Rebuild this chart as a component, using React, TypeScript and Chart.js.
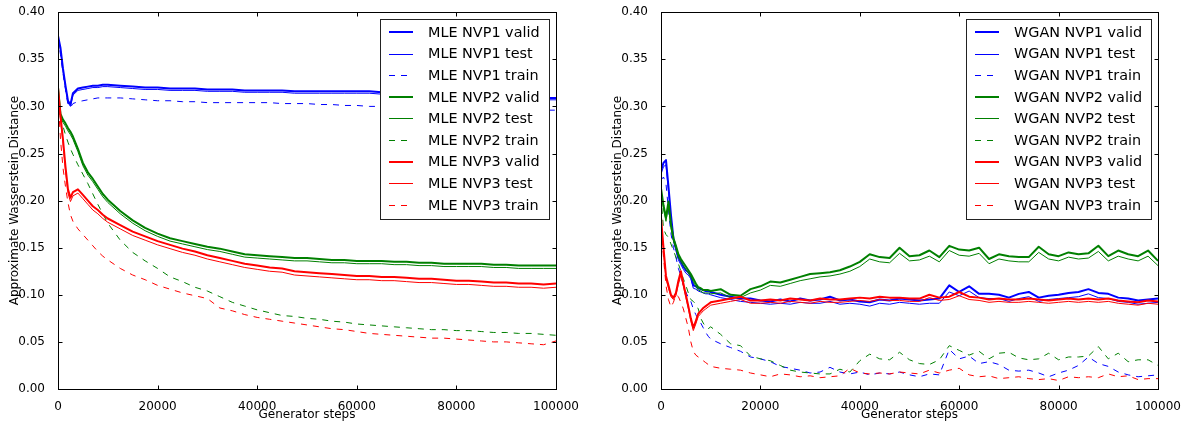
import React, { useEffect, useRef } from 'react';
import { Chart, registerables } from 'chart.js';

Chart.register(...registerables);
Chart.defaults.font.family = '"DejaVu Sans", sans-serif';
Chart.defaults.color = '#000';

// ---------- Data ----------
const X_TICKS = [0, 20000, 40000, 60000, 80000, 100000];
const Y_TICKS = [0, 0.05, 0.1, 0.15, 0.2, 0.25, 0.3, 0.35, 0.4];
const X_TITLE = 'Generator steps';
const Y_TITLE = 'Approximate Wasserstein Distance';

// MLE (left) evaluation steps
const L_STEPS = [0, 500, 1000, 1500, 2000, 2500, 3000, 4000, 5000, 6000, 7000, 8000, 9000,
  10000, 12500, 15000, 17500, 20000, 22500, 25000, 27500, 30000, 32500, 35000, 37500, 40000,
  42500, 45000, 47500, 50000, 52500, 55000, 57500, 60000, 62500, 65000, 67500, 70000, 72500,
  75000, 77500, 80000, 82500, 85000, 87500, 90000, 92500, 95000, 97500, 100000];

const MLE_NVP1_VALID = [0.375, 0.362, 0.340, 0.322, 0.306, 0.302, 0.314, 0.319, 0.320, 0.321, 0.322, 0.322, 0.323,
  0.323, 0.322, 0.321, 0.320, 0.320, 0.319, 0.319, 0.319, 0.318, 0.318, 0.318, 0.317, 0.317,
  0.317, 0.317, 0.316, 0.316, 0.316, 0.316, 0.316, 0.316, 0.316, 0.315, 0.315, 0.314, 0.314,
  0.313, 0.313, 0.312, 0.312, 0.311, 0.311, 0.310, 0.310, 0.310, 0.309, 0.309];
const MLE_NVP1_TEST = [0.373, 0.360, 0.338, 0.320, 0.304, 0.300, 0.312, 0.317, 0.318, 0.319, 0.320, 0.320, 0.321,
  0.321, 0.320, 0.319, 0.318, 0.318, 0.317, 0.317, 0.317, 0.316, 0.316, 0.316, 0.315, 0.315,
  0.315, 0.315, 0.314, 0.314, 0.314, 0.314, 0.314, 0.314, 0.314, 0.313, 0.313, 0.312, 0.312,
  0.311, 0.311, 0.310, 0.310, 0.309, 0.309, 0.308, 0.308, 0.308, 0.307, 0.307];
const MLE_NVP1_TRAIN = [0.372, 0.355, 0.335, 0.318, 0.302, 0.299, 0.303, 0.305, 0.306, 0.307, 0.308, 0.309, 0.309,
  0.309, 0.309, 0.308, 0.307, 0.306, 0.306, 0.305, 0.305, 0.304, 0.304, 0.304, 0.304, 0.304,
  0.304, 0.303, 0.303, 0.303, 0.302, 0.302, 0.301, 0.301, 0.300, 0.300, 0.299, 0.299, 0.299,
  0.298, 0.298, 0.298, 0.297, 0.297, 0.297, 0.297, 0.296, 0.296, 0.296, 0.296];

const MLE_NVP2_VALID = [0.320, 0.292, 0.286, 0.282, 0.277, 0.273, 0.268, 0.255, 0.240, 0.230, 0.223, 0.215, 0.207,
  0.201, 0.189, 0.179, 0.171, 0.165, 0.160, 0.157, 0.154, 0.151, 0.149, 0.146, 0.143, 0.142,
  0.141, 0.140, 0.139, 0.139, 0.138, 0.137, 0.137, 0.136, 0.136, 0.136, 0.135, 0.135, 0.134,
  0.134, 0.133, 0.133, 0.133, 0.133, 0.132, 0.132, 0.131, 0.131, 0.131, 0.131];
const MLE_NVP2_TEST = [0.317, 0.289, 0.283, 0.279, 0.274, 0.270, 0.265, 0.252, 0.237, 0.227, 0.220, 0.212, 0.204,
  0.198, 0.186, 0.176, 0.168, 0.162, 0.157, 0.154, 0.151, 0.148, 0.146, 0.143, 0.140, 0.139,
  0.138, 0.137, 0.136, 0.136, 0.135, 0.134, 0.134, 0.133, 0.133, 0.133, 0.132, 0.132, 0.131,
  0.131, 0.130, 0.130, 0.130, 0.130, 0.129, 0.129, 0.128, 0.128, 0.128, 0.128];
const MLE_NVP2_TRAIN = [0.315, 0.288, 0.279, 0.270, 0.262, 0.255, 0.249, 0.238, 0.228, 0.218, 0.207, 0.196, 0.186,
  0.176, 0.158, 0.145, 0.136, 0.128, 0.119, 0.114, 0.108, 0.104, 0.098, 0.092, 0.088, 0.084,
  0.081, 0.078, 0.077, 0.075, 0.074, 0.072, 0.071, 0.069, 0.068, 0.067, 0.066, 0.065, 0.064,
  0.063, 0.063, 0.062, 0.062, 0.061, 0.060, 0.060, 0.059, 0.059, 0.058, 0.057];

const MLE_NVP3_VALID = [0.320, 0.290, 0.265, 0.236, 0.212, 0.203, 0.209, 0.212, 0.206, 0.200, 0.194, 0.190, 0.185,
  0.181, 0.174, 0.167, 0.162, 0.157, 0.153, 0.149, 0.146, 0.142, 0.139, 0.136, 0.133, 0.131,
  0.129, 0.128, 0.125, 0.124, 0.123, 0.122, 0.121, 0.120, 0.120, 0.119, 0.119, 0.118, 0.117,
  0.117, 0.116, 0.115, 0.115, 0.114, 0.113, 0.113, 0.112, 0.112, 0.111, 0.112];
const MLE_NVP3_TEST = [0.316, 0.286, 0.261, 0.232, 0.208, 0.199, 0.205, 0.208, 0.202, 0.196, 0.190, 0.186, 0.181,
  0.177, 0.170, 0.163, 0.158, 0.153, 0.149, 0.145, 0.142, 0.138, 0.135, 0.132, 0.129, 0.127,
  0.125, 0.124, 0.121, 0.120, 0.119, 0.118, 0.117, 0.116, 0.116, 0.115, 0.115, 0.114, 0.113,
  0.113, 0.112, 0.111, 0.111, 0.110, 0.109, 0.109, 0.108, 0.108, 0.107, 0.108];
const MLE_NVP3_TRAIN = [0.310, 0.265, 0.235, 0.215, 0.198, 0.185, 0.178, 0.170, 0.164, 0.158, 0.152, 0.146, 0.141,
  0.137, 0.128, 0.121, 0.116, 0.110, 0.106, 0.102, 0.099, 0.096, 0.086, 0.083, 0.079, 0.076,
  0.074, 0.072, 0.070, 0.068, 0.066, 0.064, 0.063, 0.061, 0.059, 0.058, 0.057, 0.056, 0.055,
  0.054, 0.054, 0.053, 0.052, 0.051, 0.050, 0.050, 0.049, 0.048, 0.047, 0.051];

// WGAN (right) evaluation steps
const R_STEPS = [0, 500, 1000, 1500, 2000, 2500, 3000, 3500, 4000, 4500, 5000, 5500, 6000, 6500,
  7000, 7500, 8000, 8500, 9000, 9500, 10000,
  12000, 14000, 16000, 18000, 20000, 22000, 24000, 26000, 28000, 30000,
  32000, 34000, 36000, 38000, 40000, 42000, 44000, 46000, 48000, 50000,
  52000, 54000, 56000, 58000, 60000, 62000, 64000, 66000, 68000, 70000,
  72000, 74000, 76000, 78000, 80000, 82000, 84000, 86000, 88000, 90000,
  92000, 94000, 96000, 98000, 100000];

const WGAN_NVP1_VALID = [0.232, 0.240, 0.243, 0.215, 0.185, 0.160, 0.150, 0.140, 0.135, 0.130, 0.126, 0.124, 0.120, 0.110,
  0.109, 0.107, 0.106, 0.105, 0.104, 0.104, 0.103,
  0.100, 0.098, 0.096, 0.096, 0.094, 0.093, 0.095, 0.093, 0.096, 0.094,
  0.095, 0.098, 0.094, 0.095, 0.093, 0.092, 0.095, 0.094, 0.096, 0.095,
  0.094, 0.095, 0.096, 0.110, 0.103, 0.109, 0.101, 0.101, 0.100, 0.097,
  0.101, 0.103, 0.097, 0.099, 0.100, 0.102, 0.103, 0.106, 0.102, 0.101,
  0.097, 0.096, 0.094, 0.095, 0.096];
const WGAN_NVP1_TEST = [0.228, 0.236, 0.238, 0.210, 0.182, 0.158, 0.147, 0.137, 0.132, 0.127, 0.123, 0.121, 0.117, 0.107,
  0.106, 0.104, 0.103, 0.102, 0.101, 0.101, 0.100,
  0.097, 0.095, 0.093, 0.092, 0.091, 0.090, 0.091, 0.090, 0.092, 0.091,
  0.091, 0.093, 0.090, 0.091, 0.090, 0.088, 0.091, 0.090, 0.092, 0.091,
  0.090, 0.091, 0.091, 0.103, 0.099, 0.104, 0.097, 0.096, 0.096, 0.093,
  0.096, 0.098, 0.093, 0.095, 0.096, 0.097, 0.098, 0.101, 0.097, 0.096,
  0.093, 0.092, 0.090, 0.091, 0.092];
const WGAN_NVP1_TRAIN = [0.222, 0.225, 0.218, 0.190, 0.165, 0.150, 0.140, 0.128, 0.120, 0.110, 0.103, 0.097, 0.093, 0.085,
  0.079, 0.074, 0.070, 0.065, 0.060, 0.056, 0.053,
  0.048, 0.044, 0.040, 0.034, 0.032, 0.029, 0.024, 0.022, 0.020, 0.017,
  0.018, 0.023, 0.018, 0.016, 0.018, 0.015, 0.017, 0.016, 0.018, 0.015,
  0.013, 0.016, 0.015, 0.042, 0.032, 0.035, 0.027, 0.029, 0.026, 0.020,
  0.019, 0.020, 0.017, 0.013, 0.017, 0.020, 0.025, 0.034, 0.027, 0.024,
  0.018, 0.015, 0.013, 0.014, 0.015];

const WGAN_NVP2_VALID = [0.213, 0.195, 0.182, 0.199, 0.175, 0.160, 0.152, 0.143, 0.138, 0.134, 0.130, 0.126, 0.122, 0.117,
  0.112, 0.108, 0.107, 0.105, 0.105, 0.105, 0.104,
  0.106, 0.100, 0.099, 0.106, 0.109, 0.114, 0.113, 0.116, 0.119, 0.122,
  0.123, 0.124, 0.126, 0.130, 0.135, 0.143, 0.140, 0.139, 0.150, 0.141,
  0.142, 0.147, 0.140, 0.152, 0.148, 0.147, 0.150, 0.138, 0.143, 0.141,
  0.140, 0.140, 0.151, 0.143, 0.141, 0.145, 0.143, 0.144, 0.152, 0.141,
  0.147, 0.143, 0.141, 0.147, 0.136];
const WGAN_NVP2_TEST = [0.209, 0.191, 0.178, 0.195, 0.171, 0.157, 0.149, 0.140, 0.135, 0.131, 0.127, 0.123, 0.119, 0.114,
  0.109, 0.105, 0.104, 0.102, 0.102, 0.102, 0.101,
  0.102, 0.097, 0.097, 0.102, 0.105, 0.110, 0.109, 0.112, 0.115, 0.117,
  0.119, 0.120, 0.122, 0.125, 0.130, 0.138, 0.135, 0.134, 0.144, 0.136,
  0.137, 0.141, 0.135, 0.147, 0.142, 0.141, 0.144, 0.133, 0.138, 0.136,
  0.135, 0.135, 0.145, 0.138, 0.136, 0.140, 0.138, 0.139, 0.146, 0.136,
  0.141, 0.138, 0.136, 0.141, 0.131];
const WGAN_NVP2_TRAIN = [0.205, 0.170, 0.164, 0.161, 0.154, 0.147, 0.140, 0.133, 0.125, 0.117, 0.110, 0.102, 0.095, 0.093,
  0.090, 0.085, 0.075, 0.070, 0.066, 0.064, 0.066,
  0.058, 0.048, 0.046, 0.035, 0.032, 0.030, 0.025, 0.020, 0.018, 0.017,
  0.016, 0.016, 0.021, 0.018, 0.030, 0.037, 0.032, 0.031, 0.039, 0.031,
  0.027, 0.026, 0.031, 0.046, 0.041, 0.036, 0.040, 0.032, 0.038, 0.039,
  0.033, 0.031, 0.032, 0.038, 0.031, 0.034, 0.034, 0.035, 0.045, 0.032,
  0.038, 0.029, 0.031, 0.031, 0.025];

const WGAN_NVP3_VALID = [0.182, 0.150, 0.120, 0.110, 0.100, 0.097, 0.102, 0.115, 0.125, 0.112, 0.100, 0.088, 0.075, 0.065,
  0.072, 0.080, 0.083, 0.086, 0.088, 0.090, 0.092,
  0.094, 0.096, 0.098, 0.094, 0.094, 0.095, 0.094, 0.096, 0.095, 0.094,
  0.096, 0.095, 0.095, 0.096, 0.097, 0.096, 0.098, 0.097, 0.097, 0.096,
  0.096, 0.100, 0.097, 0.098, 0.103, 0.098, 0.097, 0.095, 0.096, 0.095,
  0.095, 0.096, 0.095, 0.094, 0.095, 0.096, 0.095, 0.096, 0.095, 0.096,
  0.094, 0.093, 0.092, 0.094, 0.093];
const WGAN_NVP3_TEST = [0.178, 0.147, 0.117, 0.107, 0.098, 0.095, 0.099, 0.111, 0.121, 0.109, 0.097, 0.085, 0.072, 0.062,
  0.069, 0.077, 0.080, 0.083, 0.085, 0.087, 0.089,
  0.091, 0.093, 0.095, 0.091, 0.091, 0.092, 0.091, 0.093, 0.092, 0.091,
  0.093, 0.092, 0.092, 0.093, 0.094, 0.093, 0.095, 0.094, 0.094, 0.093,
  0.093, 0.097, 0.094, 0.095, 0.099, 0.095, 0.094, 0.092, 0.093, 0.092,
  0.092, 0.093, 0.092, 0.091, 0.092, 0.093, 0.092, 0.093, 0.092, 0.093,
  0.091, 0.090, 0.089, 0.091, 0.090];
const WGAN_NVP3_TRAIN = [0.172, 0.140, 0.110, 0.095, 0.087, 0.092, 0.100, 0.098, 0.092, 0.085, 0.075, 0.065, 0.050, 0.040,
  0.036, 0.034, 0.032, 0.030, 0.028, 0.026, 0.024,
  0.022, 0.021, 0.020, 0.017, 0.015, 0.013, 0.016, 0.015, 0.013, 0.014,
  0.012, 0.013, 0.014, 0.022, 0.017, 0.016, 0.017, 0.016, 0.018, 0.017,
  0.016, 0.020, 0.017, 0.020, 0.022, 0.015, 0.013, 0.014, 0.011, 0.012,
  0.013, 0.011, 0.010, 0.011, 0.009, 0.013, 0.012, 0.013, 0.012, 0.016,
  0.013, 0.014, 0.010, 0.011, 0.011];

const BLUE = '#0000ff';
const GREEN = '#008000';
const RED = '#ff0000';

type Kind = 'valid' | 'test' | 'train';
type SeriesDef = [string, number[], string, Kind];

const MLE_SERIES: SeriesDef[] = [
  ['MLE NVP1 valid', MLE_NVP1_VALID, BLUE, 'valid'],
  ['MLE NVP1 test', MLE_NVP1_TEST, BLUE, 'test'],
  ['MLE NVP1 train', MLE_NVP1_TRAIN, BLUE, 'train'],
  ['MLE NVP2 valid', MLE_NVP2_VALID, GREEN, 'valid'],
  ['MLE NVP2 test', MLE_NVP2_TEST, GREEN, 'test'],
  ['MLE NVP2 train', MLE_NVP2_TRAIN, GREEN, 'train'],
  ['MLE NVP3 valid', MLE_NVP3_VALID, RED, 'valid'],
  ['MLE NVP3 test', MLE_NVP3_TEST, RED, 'test'],
  ['MLE NVP3 train', MLE_NVP3_TRAIN, RED, 'train'],
];

const WGAN_SERIES: SeriesDef[] = [
  ['WGAN NVP1 valid', WGAN_NVP1_VALID, BLUE, 'valid'],
  ['WGAN NVP1 test', WGAN_NVP1_TEST, BLUE, 'test'],
  ['WGAN NVP1 train', WGAN_NVP1_TRAIN, BLUE, 'train'],
  ['WGAN NVP2 valid', WGAN_NVP2_VALID, GREEN, 'valid'],
  ['WGAN NVP2 test', WGAN_NVP2_TEST, GREEN, 'test'],
  ['WGAN NVP2 train', WGAN_NVP2_TRAIN, GREEN, 'train'],
  ['WGAN NVP3 valid', WGAN_NVP3_VALID, RED, 'valid'],
  ['WGAN NVP3 test', WGAN_NVP3_TEST, RED, 'test'],
  ['WGAN NVP3 train', WGAN_NVP3_TRAIN, RED, 'train'],
];

// ---------- Helpers ----------
function buildDatasets(steps: number[], series: SeriesDef[]) {
  return series.map(([label, values, color, kind], i) => ({
    label,
    data: steps.map((x, j) => ({ x, y: values[j] })),
    borderColor: color,
    backgroundColor: color,
    borderWidth: kind === 'valid' ? 2 : 1,
    borderDash: kind === 'train' ? [6, 6] : [],
    pointRadius: 0,
    fill: false,
    tension: 0,
    borderJoinStyle: 'round',
    order: series.length - i,
  }));
}

const framePlugin = {
  id: 'mplFrame',
  afterDatasetsDraw(chart: any) {
    const { ctx, chartArea: a, scales } = chart;
    const L = Math.round(a.left) + 0.5;
    const R = Math.round(a.right) + 0.5;
    const T = Math.round(a.top) + 0.5;
    const B = Math.round(a.bottom) + 0.5;
    ctx.save();
    ctx.strokeStyle = '#000';
    ctx.lineWidth = 1;
    ctx.setLineDash([]);
    ctx.strokeRect(L, T, R - L, B - T);
    const len = 4;
    ctx.beginPath();
    for (const v of X_TICKS) {
      const px = Math.round(scales.x.getPixelForValue(v)) + 0.5;
      ctx.moveTo(px, B); ctx.lineTo(px, B - len);
      ctx.moveTo(px, T); ctx.lineTo(px, T + len);
    }
    for (const v of Y_TICKS) {
      const py = Math.round(scales.y.getPixelForValue(v)) + 0.5;
      ctx.moveTo(L, py); ctx.lineTo(L + len, py);
      ctx.moveTo(R, py); ctx.lineTo(R - len, py);
    }
    ctx.stroke();
    ctx.restore();
  },
};

const boxLegendPlugin = {
  id: 'boxLegend',
  afterDraw(chart: any) {
    const { ctx, chartArea: a } = chart;
    const datasets = chart.data.datasets;
    ctx.save();
    ctx.font = '14.4px "DejaVu Sans", sans-serif';
    let maxW = 0;
    for (const d of datasets) maxW = Math.max(maxW, ctx.measureText(d.label).width);
    const boxW = Math.round(48 + maxW + 9);
    const boxH = 200;
    const right = Math.round(a.right) - 7;
    const left = right - boxW;
    const top = Math.round(a.top) + 7;
    ctx.fillStyle = '#fff';
    ctx.fillRect(left, top, boxW, boxH);
    ctx.strokeStyle = '#222';
    ctx.lineWidth = 1;
    ctx.setLineDash([]);
    ctx.strokeRect(left + 0.5, top + 0.5, boxW, boxH);
    datasets.forEach((d: any, i: number) => {
      const cy = top + 13 + i * 21.6;
      ctx.save();
      ctx.strokeStyle = d.borderColor;
      ctx.lineWidth = d.borderWidth;
      ctx.setLineDash(d.borderDash || []);
      ctx.beginPath();
      const ly = d.borderWidth === 1 ? Math.round(cy) + 0.5 : Math.round(cy);
      ctx.moveTo(left + 9, ly);
      ctx.lineTo(left + 33, ly);
      ctx.stroke();
      ctx.restore();
      ctx.fillStyle = '#000';
      ctx.textBaseline = 'middle';
      ctx.textAlign = 'left';
      ctx.fillText(d.label, left + 48, cy + 1);
    });
    ctx.restore();
  },
};

function buildConfig(datasets: any[], yWidth: number, padRight: number, yTitlePad: number): any {
  return {
    type: 'line',
    data: { datasets },
    options: {
      animation: false,
      responsive: false,
      devicePixelRatio: 1,
      layout: { padding: { top: 10, right: padRight, left: 0, bottom: 0 } },
      plugins: { legend: { display: false }, tooltip: { enabled: false } },
      elements: { point: { radius: 0 }, line: { tension: 0 } },
      scales: {
        x: {
          type: 'linear',
          min: 0,
          max: 100000,
          afterFit: (s: any) => { s.height = 39; },
          afterBuildTicks: (s: any) => { s.ticks = X_TICKS.map((v) => ({ value: v })); },
          grid: { display: false },
          border: { display: false },
          ticks: {
            color: '#000',
            font: { size: 12 },
            padding: 3,
            maxRotation: 0,
            autoSkip: false,
            callback: (v: any) => String(v),
          },
          title: {
            display: true,
            text: X_TITLE,
            color: '#000',
            font: { size: 12 },
            padding: { top: 0, bottom: 6 },
          },
        },
        y: {
          type: 'linear',
          min: 0,
          max: 0.4,
          afterFit: (s: any) => { s.width = yWidth; },
          afterBuildTicks: (s: any) => { s.ticks = Y_TICKS.map((v) => ({ value: v })); },
          grid: { display: false },
          border: { display: false },
          ticks: {
            color: '#000',
            font: { size: 12 },
            padding: 5,
            autoSkip: false,
            callback: (v: any) => Number(v).toFixed(2),
          },
          title: {
            display: true,
            text: Y_TITLE,
            color: '#000',
            font: { size: 12 },
            padding: { top: yTitlePad, bottom: 0 },
          },
        },
      },
    },
    plugins: [framePlugin, boxLegendPlugin],
  };
}

export default function App() {
  const leftRef = useRef<HTMLCanvasElement>(null);
  const rightRef = useRef<HTMLCanvasElement>(null);

  useEffect(() => {
    const c1 = new Chart(leftRef.current as HTMLCanvasElement,
      buildConfig(buildDatasets(L_STEPS, MLE_SERIES), 58, 44, 8));
    const c2 = new Chart(rightRef.current as HTMLCanvasElement,
      buildConfig(buildDatasets(R_STEPS, WGAN_SERIES), 61, 31, 11));
    return () => { c1.destroy(); c2.destroy(); };
  }, []);

  return (
    <div style={{ position: 'fixed', left: 0, top: 0, width: 1189, height: 428, background: '#fff' }}>
      <canvas ref={leftRef} width={600} height={428}
        style={{ position: 'absolute', left: 0, top: 0, width: 600, height: 428 }} />
      <canvas ref={rightRef} width={589} height={428}
        style={{ position: 'absolute', left: 600, top: 0, width: 589, height: 428 }} />
    </div>
  );
}
